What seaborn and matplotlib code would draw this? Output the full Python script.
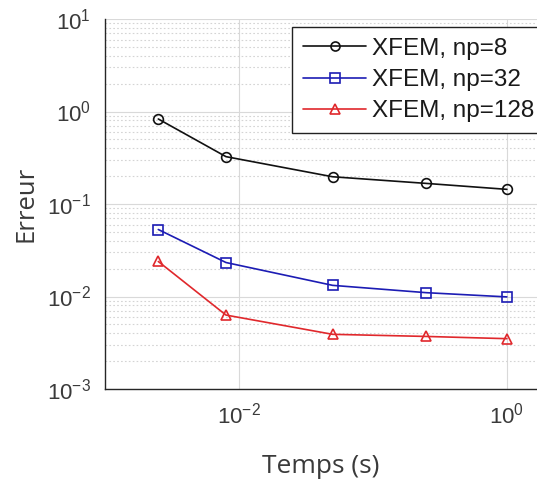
import numpy as np
import pandas as pd
import matplotlib
matplotlib.use("Agg")
import matplotlib.pyplot as plt
import matplotlib.ticker as mticker
from matplotlib.lines import Line2D
import seaborn as sns

OUT_PATH = "out.png"

# data
temps = [0.0025, 0.008, 0.05, 0.25, 1.0]
err_np8 = [0.83, 0.325, 0.197, 0.167, 0.144]
err_np32 = [0.053, 0.0233, 0.0132, 0.0110, 0.0099]
err_np128 = [0.0239, 0.0063, 0.0039, 0.0037, 0.0035]

series = ["XFEM, np=8", "XFEM, np=32", "XFEM, np=128"]
colors = ["#111111", "#1c1cb4", "#e0282c"]
markers = ["o", "s", "^"]

x_ticks = [1e-2, 1e0]
y_ticks = [1e-3, 1e-2, 1e-1, 1e0, 1e1]


def main():
    sns.set_style("white")
    plt.rcParams["font.family"] = ["Liberation Sans", "DejaVu Sans"]
    plt.rcParams["mathtext.fontset"] = "custom"
    plt.rcParams["mathtext.rm"] = "Liberation Sans"
    plt.rcParams["mathtext.it"] = "Liberation Sans"

    df = pd.DataFrame({
        "Temps": temps * 3,
        "Erreur": err_np8 + err_np32 + err_np128,
        "serie": [series[0]] * 5 + [series[1]] * 5 + [series[2]] * 5,
    })

    fig = plt.figure(figsize=(5.37, 4.88), dpi=100)
    ax = fig.add_axes([105 / 537, 1 - 389 / 488, 1 - 105 / 537, (389 - 19) / 488])

    sns.lineplot(
        data=df, x="Temps", y="Erreur", hue="serie", style="serie",
        palette=colors, markers=markers, dashes=False, ax=ax,
        markersize=7, markerfacecolor="none", markeredgewidth=1.2,
        linewidth=1.2, legend=False, sort=False,
    )
    # make sure markers are hollow with the line colour
    for line, c in zip(ax.get_lines(), colors):
        line.set_markeredgecolor(c)
        line.set_markerfacecolor("none")

    ax.set_xscale("log")
    ax.set_yscale("log")
    ax.set_xlim(1e-3, 10 ** 0.225)
    ax.set_ylim(1e-3, 1e1)

    ax.xaxis.set_major_locator(mticker.FixedLocator(x_ticks))
    ax.xaxis.set_minor_locator(mticker.NullLocator())
    ax.yaxis.set_major_locator(mticker.FixedLocator(y_ticks))
    ax.yaxis.set_minor_locator(mticker.LogLocator(base=10, subs=np.arange(2, 10), numticks=20))
    ax.yaxis.set_minor_formatter(mticker.NullFormatter())
    fmt = mticker.FuncFormatter(lambda v, p: r"$\mathregular{10^{%d}}$" % round(np.log10(v)))
    ax.xaxis.set_major_formatter(fmt)
    ax.yaxis.set_major_formatter(fmt)

    ax.grid(True, which="major", color="#d9d9d9", linewidth=0.8)
    ax.grid(True, which="minor", axis="y", color="#d4d4d4", linestyle=(0, (1.5, 2)), linewidth=0.8)
    ax.set_axisbelow(True)

    for s in ["top", "right"]:
        ax.spines[s].set_visible(False)
    for s in ["left", "bottom"]:
        ax.spines[s].set_color("#262626")
        ax.spines[s].set_linewidth(1.0)

    ax.tick_params(which="both", direction="in", colors="#262626", labelcolor="#3a3a3a",
                   labelsize=16, top=False, right=False)
    ax.tick_params(which="major", length=5, width=0.8, pad=10)
    ax.tick_params(which="minor", length=3, width=0.6)

    ax.set_xlabel("Temps (s)", family="Open Sans", fontsize=19, color="#3a3a3a", labelpad=18)
    ax.set_ylabel("Erreur", family="Open Sans", fontsize=18.5, color="#3a3a3a", labelpad=6)

    handles = [
        Line2D([], [], color=c, marker=m, markersize=6.5, markerfacecolor="none",
               markeredgewidth=1.2, linewidth=1.2)
        for c, m in zip(colors, markers)
    ]
    x0, x1 = (292 - 105) / 432, (560 - 105) / 432
    y1 = (389 - 27) / 370
    y0 = (389 - 135) / 370
    leg = ax.legend(handles, series, loc="upper left", mode="expand",
                    bbox_to_anchor=(x0, y0, x1 - x0, y1 - y0),
                    fontsize=17.5, frameon=True, fancybox=False, framealpha=1,
                    handlelength=2.6, handletextpad=0.25, borderpad=0.45,
                    labelspacing=0.38, borderaxespad=0)
    leg.get_frame().set_edgecolor("#222222")
    leg.get_frame().set_linewidth(1.0)
    for t in leg.get_texts():
        t.set_color("#1a1a1a")

    fig.savefig(OUT_PATH, dpi=100)
    plt.close(fig)


if __name__ == "__main__":
    main()
